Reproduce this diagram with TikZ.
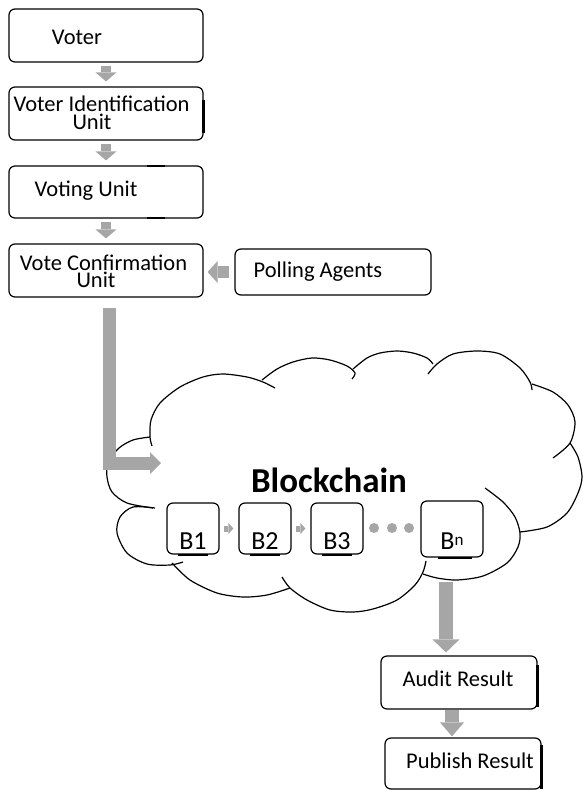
\documentclass[tikz,border=0pt]{standalone}
\usepackage{fontspec}
\setmainfont{Carlito}
\usetikzlibrary{arrows.meta}
\definecolor{arrowgray}{RGB}{166,166,166}
% two centred lines set close together; the baseline is that of the first line
\newcommand\boxlines[2]{\vtop{\baselineskip=17.2pt\lineskiplimit=-100pt\lineskip=0pt
  \halign{\hfil##\hfil\cr#1\cr#2\cr}}}
\begin{document}
\begin{tikzpicture}[x=1pt,y=-1pt,
  box/.style={draw=black, line width=1.2pt, rounded corners=6pt, inner sep=0pt},
  txt/.style={anchor=base, inner sep=0pt, font=\fontsize{22.5}{22.5}\selectfont},
  btxt/.style={anchor=base, inner sep=0pt, font=\fontsize{26}{26}\selectfont},
  blk/.style n args={3}{draw=arrowgray, line width=#1,
    -{Triangle[width=#2, length=#3, line width=0pt, fill=arrowgray]}},
  uline/.style={draw=black, line width=2pt},
  edge/.style={draw=black, line width=2.4pt},
  cloudline/.style={draw=black, line width=1.2pt},
  dot/.style={circle, fill=arrowgray, inner sep=0pt, minimum size=10pt}
]
\useasboundingbox (0,0) rectangle (582,791);

% ---------- process boxes ----------
\node[box, minimum width=194pt, minimum height=53pt] (voter)   at (106,35.5)  {};
\node[box, minimum width=194pt, minimum height=53pt] (vid)     at (106,113.5) {};
\node[box, minimum width=194pt, minimum height=52pt] (vunit)   at (106,192)   {};
\node[box, minimum width=194pt, minimum height=53pt] (vconf)   at (106,270.5) {};
\node[box, minimum width=196pt, minimum height=46pt] (polling) at (333,272)   {};
\node[box, minimum width=156pt, minimum height=53pt] (audit)   at (459,682.5) {};
\node[box, minimum width=156pt, minimum height=51pt] (publish) at (463,763.5) {};

\node[txt] (voterT)  at (77,44.5)     {Voter};
\node[txt] (vidT)    at (101.5,112)   {\boxlines{Voter Identification}{Unit\hspace*{19pt}}};
\node[txt] (vunitT)  at (86,196.7)    {Voting Unit};
\node[txt] (vconfT)  at (103.5,270.2) {\boxlines{Vote Confirmation}{Unit\hspace*{15pt}}};
\node[txt] (pollT)   at (318,277.7)   {Polling Agents};
\node[txt] (auditT)  at (458,686)     {Audit Result};
\node[txt] (pubT)    at (470,768)     {Publish Result};

% heavier strokes on some box edges
\draw[edge] (vid.north east |- 0,100) -- (vid.north east |- 0,133);
\draw[edge] (147,166) -- (165,166);
\draw[edge] (147,218) -- (165,218);
\draw[edge] (audit.north east |- 0,665) -- (audit.north east |- 0,707);
\draw[edge] (publish.north east |- 0,745) -- (publish.north east |- 0,789);

% ---------- cloud ----------
\draw[cloudline] plot[smooth] coordinates {(152,446) (150,437) (151,420) (160,403) (180,387) (203,377) (223,374) (247,377) (263,382) (275,388)};
\draw[cloudline] plot[smooth] coordinates {(262,380) (277,369) (293,362) (312,358) (330,360) (347,366) (355,373) (352,379)};
\draw[cloudline] plot[smooth] coordinates {(353,369) (367,358) (380,353) (397,351) (413,353) (427,358) (433,364)};
\draw[cloudline] plot[smooth] coordinates {(428,374) (437,364) (453,354) (477,351) (500,354) (520,368) (530,382) (532,390)};
\draw[cloudline] plot[smooth] coordinates {(532,384) (553,392) (568,405) (575,422) (570,443) (553,458)};
\draw[cloudline] plot[smooth] coordinates {(570,443) (578,457) (582,477) (578,493) (567,513) (547,527) (520,532)};
\draw[cloudline] plot[smooth] coordinates {(485,488) (503,502) (515,517) (520,533) (518,547) (507,563) (483,576) (457,580) (437,578) (423,574)};
\draw[cloudline] plot[smooth] coordinates {(426,561) (423,572) (415,585) (397,600) (373,609) (353,612) (330,610) (307,600) (290,588) (282,577)};
\draw[cloudline] plot[smooth] coordinates {(290,588) (267,595) (243,597) (217,593) (190,580) (172,563)};
\draw[cloudline] plot[smooth] coordinates {(183,562) (170,565) (147,564) (127,553) (117,533) (120,517) (133,507) (155,508)};
\draw[cloudline] plot[smooth] coordinates {(153,508) (127,503) (112,492) (107,477) (108,462) (119,448) (133,440) (150,437)};

\node[inner sep=0pt, anchor=base, font=\fontsize{35}{35}\selectfont\bfseries] (chain) at (329,492.7) {Blockchain};

% ---------- blocks ----------
\node[box, minimum width=52pt, minimum height=51pt] (b1) at (193,528.5) {};
\node[box, minimum width=52pt, minimum height=51pt] (b2) at (265,528.5) {};
\node[box, minimum width=52pt, minimum height=51pt] (b3) at (337,528.5) {};
\node[box, minimum width=62pt, minimum height=56pt] (bn) at (452,529)   {};

\node[btxt] (b1T) at (193,549) {B1};
\node[btxt] (b2T) at (265,549) {B2};
\node[btxt] (b3T) at (337,549) {B3};
\node[btxt] (bnT) at (452,549) {B\raisebox{4pt}{\fontsize{17}{17}\selectfont n}};

\draw[uline] ([xshift=-15pt]b1.south) -- ([xshift=15pt]b1.south);
\draw[uline] ([xshift=-15pt]b2.south) -- ([xshift=15pt]b2.south);
\draw[uline] ([xshift=-15pt]b3.south) -- ([xshift=15pt]b3.south);
\draw[uline] ([xshift=-14pt]bn.south) -- ([xshift=20pt]bn.south);

\node[dot] (d1) at (374,528) {};
\node[dot] (d2) at (392,528) {};
\node[dot] (d3) at (409,528) {};

\draw[blk={6pt}{11pt}{5pt}, shorten <=4pt, shorten >=5pt] (b1.east) -- (b2.west);
\draw[blk={6pt}{11pt}{5pt}, shorten <=4pt, shorten >=5pt] (b2.east) -- (b3.west);

% ---------- flow arrows ----------
\coordinate (cloudin)  at (161,463);
\coordinate (cloudout) at (446,582);

\draw[blk={10pt}{21pt}{9pt}, shorten <=3pt, shorten >=5pt] (voter.south) -- (vid.north);
\draw[blk={10pt}{21pt}{9pt}, shorten <=3pt, shorten >=5pt] (vid.south) -- (vunit.north);
\draw[blk={10pt}{21pt}{9pt}, shorten <=3pt, shorten >=5pt] (vunit.south) -- (vconf.north);
\draw[blk={12pt}{22pt}{10pt}, shorten <=5pt, shorten >=4pt] (polling.west) -- (polling.west -| vconf.east);
\draw[blk={13pt}{22pt}{11pt}, shorten <=10pt] ([xshift=3.5pt]vconf.south) |- (cloudin);
\draw[blk={14pt}{27pt}{13pt}, shorten >=3pt] (cloudout) -- (cloudout |- audit.north);
\draw[blk={14pt}{24pt}{14pt}, shorten >=1pt] ([xshift=-7pt]audit.south) -- ([xshift=-7pt]audit.south |- publish.north);
\end{tikzpicture}
\end{document}
